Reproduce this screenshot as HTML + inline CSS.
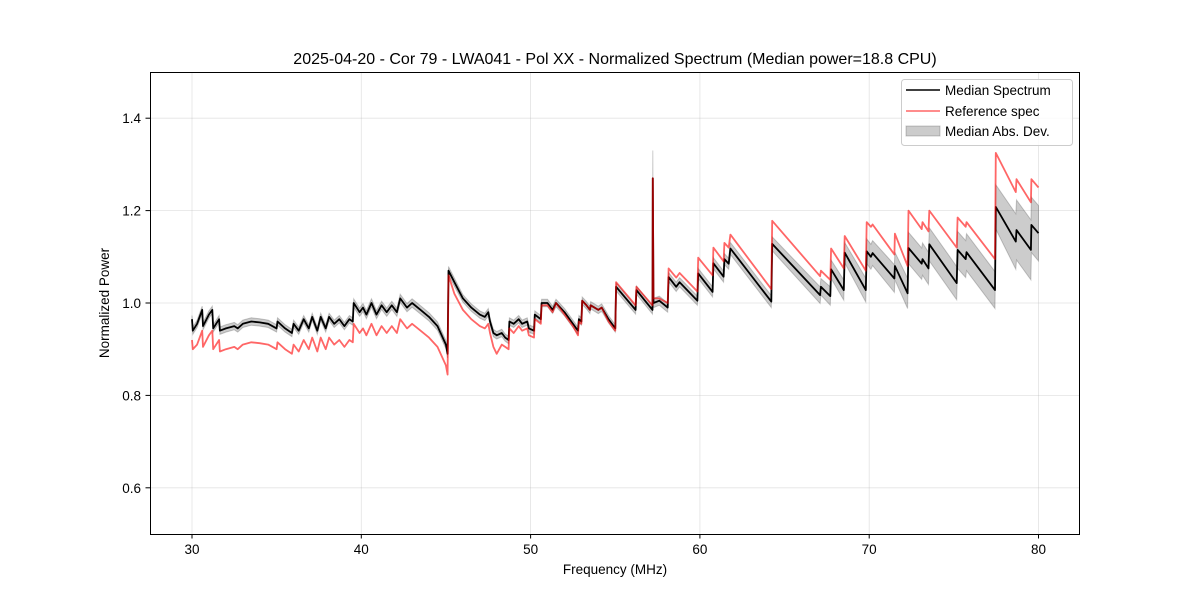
<!DOCTYPE html>
<html><head><meta charset="utf-8"><style>
body{margin:0;background:#fff;}
svg text{font-family:"Liberation Sans","DejaVu Sans",sans-serif;}
</style></head><body>
<svg id="chart" width="1200" height="600" xmlns="http://www.w3.org/2000/svg">
<rect width="1200" height="600" fill="#fff"/>
<text x="615" y="64" text-anchor="middle" font-size="16">2025-04-20 - Cor 79 - LWA041 - Pol XX - Normalized Spectrum (Median power=18.8 CPU)</text>
<g id="grid"></g>
<g id="band"></g>
<g id="lines"></g>
<rect x="150.5" y="72.5" width="929" height="462" fill="none" stroke="#000" stroke-width="1"/>
<g id="ticks"></g>
<text x="615" y="574" text-anchor="middle" font-size="13.5">Frequency (MHz)</text>
<text transform="translate(109,303) rotate(-90)" text-anchor="middle" font-size="13.5">Normalized Power</text>
<g>
<rect x="901.5" y="79.5" width="171" height="66" rx="3" fill="#fff" fill-opacity="0.8" stroke="#ccc"/>
<line x1="906" y1="90" x2="940" y2="90" stroke="#000" stroke-width="1.5"/>
<text x="945" y="95" font-size="13.5">Median Spectrum</text>
<line x1="906" y1="111" x2="940" y2="111" stroke="#ff0000" stroke-opacity="0.6" stroke-width="1.5"/>
<text x="945" y="116" font-size="13.5">Reference spec</text>
<rect x="906" y="126" width="34" height="10" fill="#000" fill-opacity="0.2" stroke="#000" stroke-opacity="0.2"/>
<text x="945" y="136" font-size="13.5">Median Abs. Dev.</text>
</g>
</svg>
<script>
const freqs=[30.00,30.05,30.30,30.60,30.65,31.00,31.20,31.25,31.60,31.65,32.00,32.50,32.70,33.00,33.50,34.00,34.50,35.00,35.05,35.50,35.90,36.00,36.30,36.60,36.90,37.10,37.40,37.60,37.90,38.10,38.40,38.70,39.00,39.30,39.50,39.55,39.90,40.10,40.30,40.60,40.90,41.20,41.50,41.80,42.10,42.30,42.70,43.00,43.50,44.00,44.50,45.00,45.10,45.15,45.50,46.00,46.50,47.00,47.30,47.50,47.60,47.80,48.00,48.30,48.50,48.70,48.75,49.00,49.30,49.50,49.80,49.90,50.20,50.25,50.60,50.65,51.00,51.30,51.50,52.00,52.50,52.80,52.85,53.00,53.05,53.30,53.50,53.55,54.00,54.20,54.60,55.00,55.05,56.20,56.25,57.20,57.22,57.26,57.60,58.10,58.15,58.60,58.80,59.85,59.90,60.75,60.80,61.40,61.45,61.70,61.80,64.22,64.27,67.10,67.15,67.70,67.75,68.50,68.55,69.80,69.85,70.10,70.20,71.49,71.52,72.27,72.32,73.10,73.15,73.50,73.55,75.17,75.22,75.70,75.75,77.43,77.48,78.66,78.70,79.55,79.58,80.00];
const median=[.965,.940,.955,.985,.950,.975,.985,.945,.965,.940,.945,.950,.945,.955,.960,.958,.955,.945,.960,.945,.935,.955,.940,.965,.945,.970,.940,.970,.945,.970,.955,.965,.950,.965,.960,1.000,.980,.990,.975,1.000,.975,.995,.980,.995,.980,1.010,.990,1.000,.985,.970,.950,.910,.890,1.070,1.045,1.010,.990,.975,.970,.980,.960,.935,.930,.935,.925,.920,.960,.955,.965,.955,.960,.945,.940,.975,.965,1.000,1.000,.985,1.000,.980,.955,.940,.965,.960,1.005,.995,.985,.995,.985,.990,.965,.945,1.035,.985,1.028,.985,1.270,1.000,1.005,.990,1.056,1.035,1.045,1.005,1.064,1.024,1.086,1.057,1.095,1.085,1.118,1.003,1.128,1.017,1.035,1.015,1.073,1.028,1.109,1.028,1.112,1.100,1.108,1.053,1.080,1.021,1.119,1.085,1.095,1.075,1.127,1.043,1.115,1.095,1.110,1.028,1.208,1.133,1.158,1.115,1.169,1.151];
const reference=[.920,.900,.910,.940,.905,.930,.940,.900,.920,.895,.900,.905,.900,.910,.915,.913,.910,.900,.915,.900,.890,.910,.895,.920,.900,.925,.895,.925,.900,.925,.910,.920,.905,.920,.915,.955,.935,.945,.930,.955,.930,.950,.935,.950,.935,.965,.945,.955,.940,.925,.905,.865,.845,1.060,1.020,.985,.965,.950,.945,.955,.935,.905,.890,.910,.905,.900,.945,.935,.950,.940,.945,.930,.925,.965,.955,.995,.995,.980,1.000,.975,.950,.930,.960,.955,1.005,.995,.985,.995,.985,.990,.960,.940,1.045,.995,1.035,.995,1.270,1.010,1.010,1.000,1.075,1.055,1.065,1.025,1.098,1.060,1.120,1.090,1.130,1.120,1.148,1.030,1.178,1.058,1.070,1.050,1.118,1.075,1.145,1.070,1.175,1.165,1.170,1.105,1.150,1.080,1.200,1.160,1.175,1.155,1.200,1.120,1.185,1.165,1.175,1.095,1.325,1.240,1.268,1.218,1.268,1.250];
const mad=[.008,.008,.008,.008,.008,.008,.008,.008,.008,.008,.008,.008,.008,.008,.008,.008,.008,.008,.008,.008,.008,.008,.008,.008,.008,.008,.008,.008,.008,.008,.008,.008,.008,.008,.008,.009,.009,.009,.009,.009,.009,.009,.009,.009,.009,.009,.009,.009,.009,.009,.009,.009,.009,.009,.009,.008,.008,.008,.008,.008,.008,.008,.008,.008,.008,.008,.008,.008,.008,.008,.008,.008,.008,.008,.008,.008,.008,.008,.008,.008,.008,.008,.008,.008,.008,.008,.008,.008,.008,.008,.008,.008,.009,.009,.009,.009,.060,.010,.010,.010,.010,.010,.010,.010,.011,.011,.012,.012,.012,.012,.013,.013,.015,.018,.018,.020,.020,.022,.022,.026,.027,.027,.027,.030,.030,.033,.034,.034,.035,.035,.036,.036,.040,.040,.040,.040,.048,.060,.065,.065,.060,.060,.058];
const xTicks=[30,40,50,60,70,80];
const yTicks=[0.6,0.8,1.0,1.2,1.4];

const NS="http://www.w3.org/2000/svg";
const X=f=>192+(f-30)*16.93;
const Y=v=>534-(v-0.5)*462;
function mk(tag,attrs,parent){const e=document.createElementNS(NS,tag);for(const k in attrs)e.setAttribute(k,attrs[k]);parent.appendChild(e);return e;}
const grid=document.getElementById('grid'),ticks=document.getElementById('ticks');
xTicks.forEach(t=>{
  const x=X(t);
  const g=mk('line',{x1:x,x2:x,y1:72,y2:534,stroke:'#b0b0b0','stroke-opacity':0.35,'stroke-width':0.8},grid);
  
  
  const tk=mk('line',{x1:x,x2:x,y1:534,y2:538.5,stroke:'#000'},ticks);
  
  
  const l=mk('text',{x:x,y:554,'text-anchor':'middle','font-size':13.5},ticks);l.textContent=t;
  
  
});
yTicks.forEach(t=>{
  const y=Y(t);
  const g=mk('line',{x1:150,x2:1080,y1:y,y2:y,stroke:'#b0b0b0','stroke-opacity':0.35,'stroke-width':0.8},grid);
  
  
  const tk=mk('line',{x1:145.5,x2:150,y1:y,y2:y,stroke:'#000'},ticks);
  
  
  const l=mk('text',{x:141,y:y+5,'text-anchor':'end','font-size':13.5},ticks);l.textContent=t.toFixed(1);
  
  
});
let up=[],dn=[];
freqs.forEach((f,i)=>{up.push(X(f).toFixed(1)+','+Y(median[i]+mad[i]).toFixed(1));dn.push(X(f).toFixed(1)+','+Y(median[i]-mad[i]).toFixed(1));});
const band=mk('polygon',{points:up.concat(dn.reverse()).join(' '),fill:'#000','fill-opacity':0.2,stroke:'#000','stroke-opacity':0.2,'stroke-width':1},document.getElementById('band'));


const lines=document.getElementById('lines');
const mp=mk('polyline',{points:freqs.map((f,i)=>X(f).toFixed(1)+','+Y(median[i]).toFixed(1)).join(' '),fill:'none',stroke:'#000','stroke-width':1.8,'stroke-linejoin':'round'},lines);


const rp=mk('polyline',{points:freqs.map((f,i)=>X(f).toFixed(1)+','+Y(reference[i]).toFixed(1)).join(' '),fill:'none',stroke:'#ff0000','stroke-opacity':0.6,'stroke-width':1.8,'stroke-linejoin':'round'},lines);


</script>
</body></html>
